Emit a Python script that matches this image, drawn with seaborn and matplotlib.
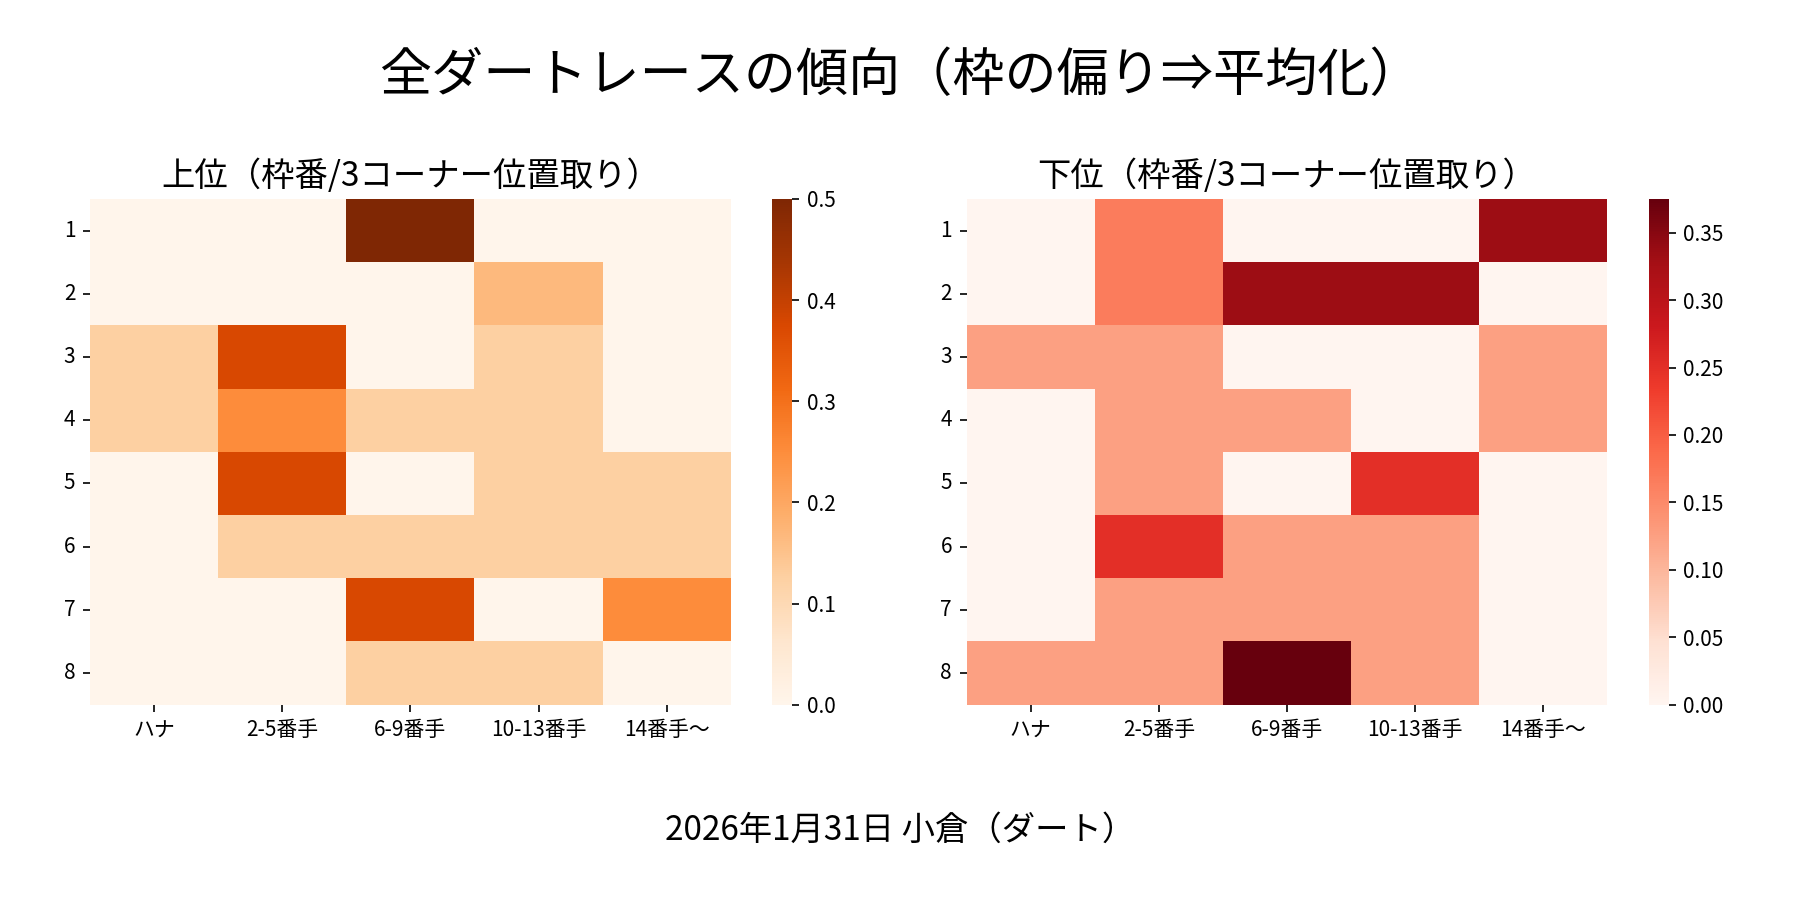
import numpy as np
import pandas as pd
import matplotlib
matplotlib.use("Agg")
import matplotlib.pyplot as plt
import seaborn as sns

# 軸ラベル
waku = ["1", "2", "3", "4", "5", "6", "7", "8"]
ichidori = ["ハナ", "2-5番手", "6-9番手", "10-13番手", "14番手〜"]

# 上位（枠番 x 3コーナー位置取り）
upper = [
    [0.0, 0.0, 0.5, 0.0, 0.0],
    [0.0, 0.0, 0.0, 0.1667, 0.0],
    [0.125, 0.375, 0.0, 0.125, 0.0],
    [0.125, 0.25, 0.125, 0.125, 0.0],
    [0.0, 0.375, 0.0, 0.125, 0.125],
    [0.0, 0.125, 0.125, 0.125, 0.125],
    [0.0, 0.0, 0.375, 0.0, 0.25],
    [0.0, 0.0, 0.125, 0.125, 0.0],
]

# 下位（枠番 x 3コーナー位置取り）
lower = [
    [0.0, 0.1667, 0.0, 0.0, 0.3333],
    [0.0, 0.1667, 0.3333, 0.3333, 0.0],
    [0.125, 0.125, 0.0, 0.0, 0.125],
    [0.0, 0.125, 0.125, 0.0, 0.125],
    [0.0, 0.125, 0.0, 0.25, 0.0],
    [0.0, 0.25, 0.125, 0.125, 0.0],
    [0.0, 0.125, 0.125, 0.125, 0.0],
    [0.125, 0.125, 0.375, 0.125, 0.0],
]

df_upper = pd.DataFrame(upper, index=waku, columns=ichidori)
df_lower = pd.DataFrame(lower, index=waku, columns=ichidori)

# matplotlib標準スタイルのまま、日本語フォントだけ指定
plt.rcParams["font.family"] = ["Noto Sans CJK JP", "DejaVu Sans"]

fig = plt.figure(figsize=(12, 6), dpi=150)
ax1 = fig.add_axes([0.050, 0.217, 0.356, 0.562])
cax1 = fig.add_axes([0.429, 0.217, 0.011, 0.562])
ax2 = fig.add_axes([0.537, 0.217, 0.356, 0.562])
cax2 = fig.add_axes([0.916, 0.217, 0.011, 0.562])

sns.heatmap(df_upper, cmap="Oranges", ax=ax1, cbar_ax=cax1)
ax1.set_title("上位（枠番/3コーナー位置取り）", fontsize=16)

sns.heatmap(df_lower, cmap="Reds", ax=ax2, cbar_ax=cax2)
ax2.set_title("下位（枠番/3コーナー位置取り）", fontsize=16)

for ax in (ax1, ax2):
    ax.set_xlabel("")
    ax.set_ylabel("")
    ax.tick_params(axis="y", rotation=0)
    ax.tick_params(axis="x", rotation=0)

fig.suptitle("全ダートレースの傾向（枠の偏り⇒平均化）", fontsize=25, y=0.945)
fig.text(0.5, 0.077, "2026年1月31日 小倉（ダート）", ha="center", va="center", fontsize=16)

plt.savefig("out.png", dpi=150)
